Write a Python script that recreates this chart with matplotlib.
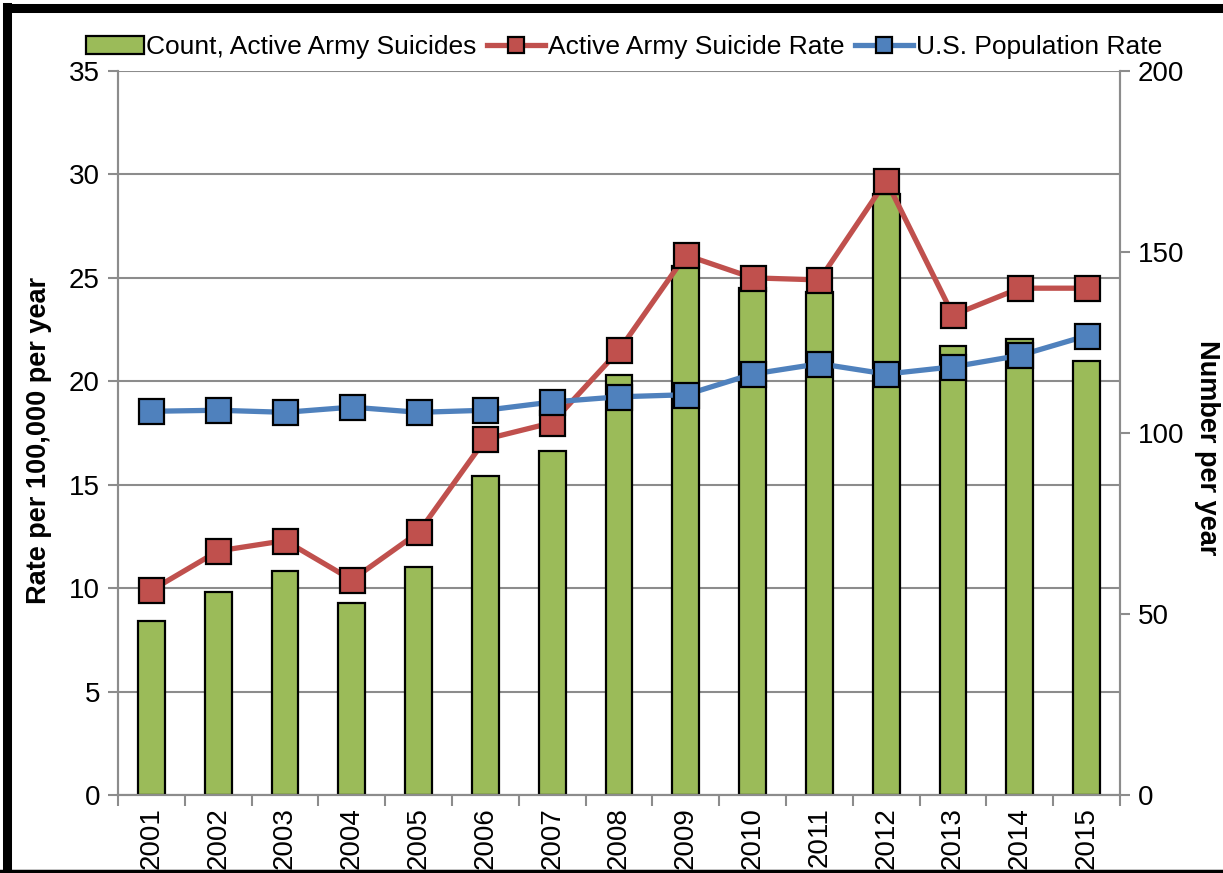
import matplotlib
matplotlib.use("Agg")
import matplotlib.pyplot as plt
from matplotlib.lines import Line2D
from matplotlib.ticker import FixedLocator, NullFormatter

plt.rcParams['font.family'] = ['Liberation Sans', 'DejaVu Sans']

years = ['2001', '2002', '2003', '2004', '2005', '2006', '2007', '2008',
         '2009', '2010', '2011', '2012', '2013', '2014', '2015']
# right axis: number of suicides
counts = [48, 56, 62, 53, 63, 88, 95, 116, 146, 140, 139, 166, 124, 126, 120]
# left axis: rate per 100,000
army_rate = [9.9, 11.8, 12.3, 10.4, 12.7, 17.2, 18.0, 21.5, 26.1, 25.0, 24.9,
             29.7, 23.2, 24.5, 24.5]
us_rate = [18.55, 18.6, 18.5, 18.75, 18.5, 18.6, 19.0, 19.25, 19.35, 20.35,
           20.85, 20.35, 20.7, 21.25, 22.2]

green = '#9BBB59'
red = '#C0504D'
blue = '#4F81BD'
grey = '#8C8C8C'
fs = 20

fig = plt.figure(figsize=(12.23, 8.73), dpi=100)
ax = fig.add_axes([0.0965, 0.0893, 0.8193, 0.8294])
ax2 = ax.twinx()

x = list(range(len(years)))

# bars on the right (count) axis
ax2.bar(x, counts, width=0.4, color=green, edgecolor='black', linewidth=1.6,
        label='Count, Active Army Suicides', zorder=2)
# lines drawn in front of the bars but in the left (rate) scale
ax2.plot(x, army_rate, color=red, linewidth=3.8, marker='s', markersize=18,
         markerfacecolor=red, markeredgecolor='black', markeredgewidth=1.6,
         transform=ax.transData, label='Active Army Suicide Rate', zorder=3)
ax2.plot(x, us_rate, color=blue, linewidth=3.8, marker='s', markersize=18,
         markerfacecolor=blue, markeredgecolor='black', markeredgewidth=1.6,
         transform=ax.transData, label='U.S. Population Rate', zorder=3)

ax.set_xlim(-0.5, len(years) - 0.5)
ax.set_ylim(0, 35)
ax2.set_ylim(0, 200)
ax.set_yticks(range(0, 36, 5))
ax2.set_yticks(range(0, 201, 50))

ax.grid(axis='y', color=grey, linewidth=1.5)
ax.set_axisbelow(True)

# category ticks between the bars, labels at the centres
ax.xaxis.set_major_locator(FixedLocator([i - 0.5 for i in range(len(years) + 1)]))
ax.xaxis.set_major_formatter(NullFormatter())
ax.xaxis.set_minor_locator(FixedLocator(x))
ax.set_xticklabels(years, minor=True, rotation=90, fontsize=fs)
ax.tick_params(axis='x', which='major', direction='out', length=8, width=1.5,
               color=grey)
ax.tick_params(axis='x', which='minor', length=0, pad=9)
ax.tick_params(axis='y', direction='out', length=7, width=1.5, color=grey,
               labelsize=fs, pad=6)
ax2.tick_params(axis='y', direction='out', length=7, width=1.5, color=grey,
                labelsize=fs, pad=6)

for a in (ax, ax2):
    a.spines['top'].set_visible(False)
    for s in ('left', 'right', 'bottom'):
        a.spines[s].set_color(grey)
        a.spines[s].set_linewidth(1.5)

ax.set_ylabel('Rate per 100,000 per year', fontsize=19.5, fontweight='bold')
ax.yaxis.set_label_coords(-0.066, 0.49)
ax2.set_ylabel('Number per year', fontsize=19.5, fontweight='bold', rotation=-90,
               va='center')
ax2.yaxis.set_label_coords(1.087, 0.48)

h, l = ax2.get_legend_handles_labels()
order = [2, 0, 1]
fig.legend([h[i] for i in order], [l[i] for i in order], loc='center',
           bbox_to_anchor=(0.51, 0.946), ncol=3, frameon=False, fontsize=19,
           handlelength=2.2, handletextpad=0.1, columnspacing=0.4,
           markerscale=0.65, borderaxespad=0)

# black frame pieces from the original screenshot
fig.add_artist(Line2D([0.007, 1.0], [0.9905, 0.9905], color='black', linewidth=6.5,
                      transform=fig.transFigure))
fig.add_artist(Line2D([0.006, 0.006], [0.0, 0.992], color='black', linewidth=6.5,
                      transform=fig.transFigure))
fig.add_artist(Line2D([0.0, 1.0], [0.002, 0.002], color='black', linewidth=2.5,
                      transform=fig.transFigure))

fig.savefig('out.png', dpi=100)
